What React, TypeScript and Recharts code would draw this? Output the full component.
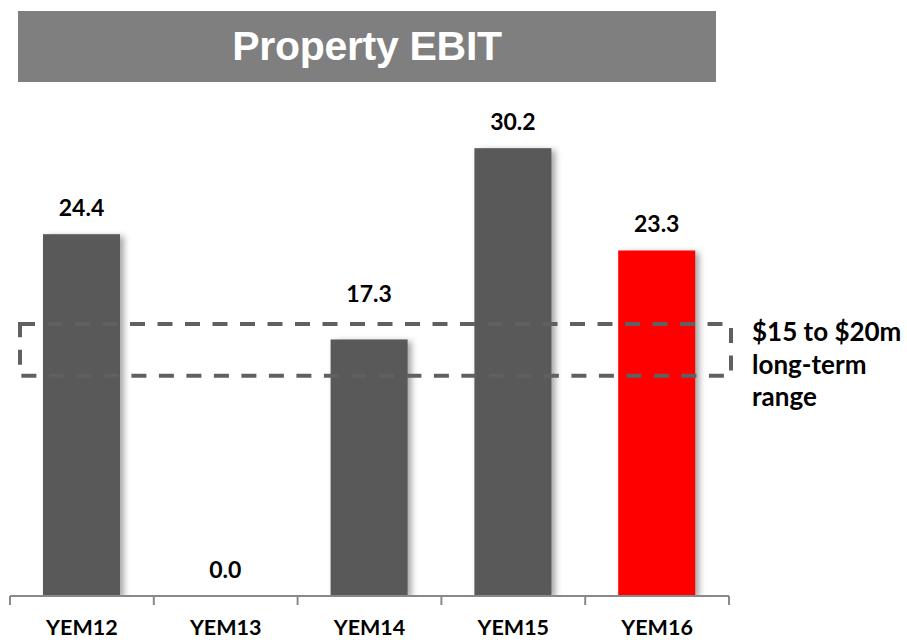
import React from 'react';
import { BarChart, Bar, XAxis, YAxis, Cell, LabelList, ReferenceArea } from 'recharts';

const categories = ['YEM12', 'YEM13', 'YEM14', 'YEM15', 'YEM16'];
const ebitValues = [24.4, 0.0, 17.3, 30.2, 23.3];
const highlightCategory = 'YEM16';
const titleText = 'Property EBIT';
const rangeLines = ['$15 to $20m', 'long-term', 'range'];
// dashed "long-term range" box, in value units
const boxLow = 14.85;
const boxHigh = 18.35;

const data = categories.map((c, i) => ({ name: c, value: ebitValues[i] }));

const CHART_W = 907;
const CHART_H = 640;
const MARGIN = { top: 77, right: 178, bottom: 0, left: 10 };
const BAND = (CHART_W - MARGIN.left - MARGIN.right) / categories.length;
const TICK_MARGIN = 24;
const TICK_LEN = 9;
const AXIS_COLOR = '#898989';

const LABEL_FONT = 'Lato, "Open Sans", sans-serif';

const BarShape = (props: any) => {
  const { x, y, width, height, fill } = props;
  if (!height || height <= 0) return <g />;
  return (
    <rect
      x={x}
      y={y}
      width={width}
      height={height}
      fill={fill}
      style={{ filter: 'drop-shadow(4px 2px 3px rgba(0,0,0,0.35))' }}
    />
  );
};

const ValueLabel = (props: any) => {
  const { x, y, width, height, value } = props;
  const v = Number(value);
  const bottom = y + height;
  let top = y;
  let extra = 0;
  if (v > boxLow && v < boxHigh && v > 0) {
    const pxPerUnit = height / v;
    top = bottom - boxHigh * pxPerUnit;
    extra = 4;
  }
  return (
    <text
      x={x + width / 2}
      y={top - 18 - extra}
      textAnchor="middle"
      fontFamily={LABEL_FONT}
      fontWeight={700}
      fontSize={23}
      fill="#000"
    >
      {v.toFixed(1)}
    </text>
  );
};

const CategoryTick = (props: any) => {
  const { x, y, payload, index, visibleTicksCount } = props;
  const axisY = y - TICK_MARGIN;
  const last = index === (visibleTicksCount ?? categories.length) - 1;
  return (
    <g>
      <line
        x1={x - BAND / 2}
        x2={x - BAND / 2}
        y1={axisY}
        y2={axisY + TICK_LEN}
        stroke={AXIS_COLOR}
        strokeWidth={2}
      />
      {last && (
        <line
          x1={x + BAND / 2}
          x2={x + BAND / 2}
          y1={axisY}
          y2={axisY + TICK_LEN}
          stroke={AXIS_COLOR}
          strokeWidth={2}
        />
      )}
      <text
        x={x}
        y={y}
        dy="0.72em"
        textAnchor="middle"
        fontFamily={LABEL_FONT}
        fontWeight={700}
        fontSize={21.5}
        fill="#000"
      >
        {payload.value}
      </text>
    </g>
  );
};

const RangeBox = (props: any) => {
  const { x, y, width, height } = props;
  return (
    <rect
      x={x + 10}
      y={y}
      width={width - 8}
      height={height}
      fill="none"
      stroke="#606060"
      strokeWidth={4}
      strokeDasharray="15 12.5"
    />
  );
};

export default function App() {
  return (
    <div style={{ position: 'absolute', left: 0, top: 0, width: CHART_W, height: CHART_H, background: '#fff' }}>
      <BarChart width={CHART_W} height={CHART_H} data={data} margin={MARGIN}>
        <XAxis
          dataKey="name"
          type="category"
          height={CHART_H - 596}
          interval={0}
          axisLine={{ stroke: AXIS_COLOR, strokeWidth: 2 }}
          tickLine={false}
          tickSize={0}
          tickMargin={TICK_MARGIN}
          tick={<CategoryTick />}
        />
        <YAxis hide domain={[0, 35]} allowDataOverflow />
        <Bar dataKey="value" barSize={77} isAnimationActive={false} shape={<BarShape />}>
          {data.map((d) => (
            <Cell key={d.name} fill={d.name === highlightCategory ? '#ff0000' : '#595959'} />
          ))}
          <LabelList dataKey="value" content={<ValueLabel />} />
        </Bar>
        <ReferenceArea
          y1={boxLow}
          y2={boxHigh}
          ifOverflow="visible"
          zIndex={350}
          shape={<RangeBox />}
        />
      </BarChart>
      <div
        style={{
          position: 'absolute',
          left: 18,
          top: 11,
          width: 698,
          height: 71,
          background: '#7f7f7f',
          display: 'flex',
          alignItems: 'center',
          justifyContent: 'center',
          color: '#fff',
          fontFamily: '"Liberation Sans", Arial, sans-serif',
          fontWeight: 700,
          fontSize: 41,
          letterSpacing: -0.3,
          lineHeight: 1,
        }}
      >
        {titleText}
      </div>
      <div
        style={{
          position: 'absolute',
          left: 752,
          top: 315,
          fontFamily: LABEL_FONT,
          fontWeight: 700,
          fontSize: 26,
          lineHeight: '32.5px',
          color: '#000',
          whiteSpace: 'nowrap',
        }}
      >
        {rangeLines.map((l) => (
          <div key={l}>{l}</div>
        ))}
      </div>
    </div>
  );
}
